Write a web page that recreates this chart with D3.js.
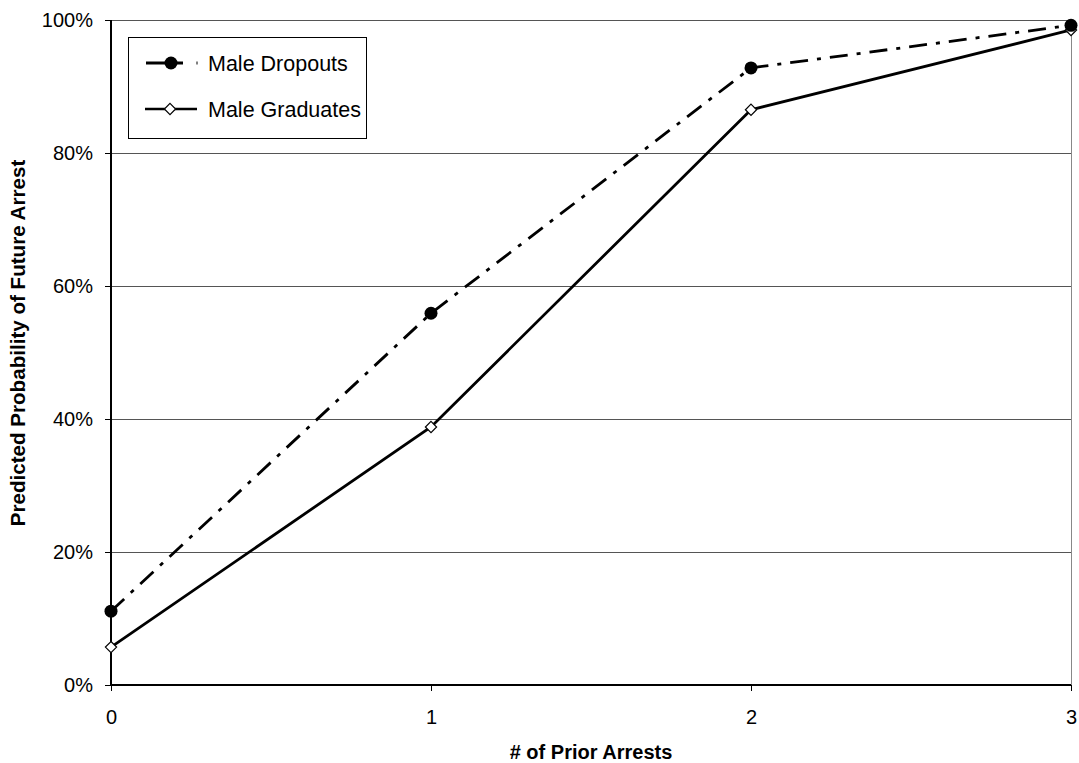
<!DOCTYPE html>
<html>
<head>
<meta charset="utf-8">
<script src="https://cdn.jsdelivr.net/npm/d3@7"></script>
<style>
  html, body { margin: 0; padding: 0; background: #fff; }
  svg { display: block; font-family: "Liberation Sans", Arial, sans-serif; }
</style>
</head>
<body>
<svg id="chart" width="1079" height="763"></svg>
<script>
// Predicted probability of future arrest by number of prior arrests
const priorArrests = [0, 1, 2, 3];
const dropouts = [0.111, 0.559, 0.928, 0.992];
const graduates = [0.057, 0.388, 0.865, 0.985];
const yTicks = [0, 0.2, 0.4, 0.6, 0.8, 1.0];
const seriesNames = ["Male Dropouts", "Male Graduates"];

const svg = d3.select("#chart");
const margin = { left: 111, right: 8, top: 20, bottom: 78 };
const W = 1079, H = 763;

const x = d3.scaleLinear().domain([0, 3]).range([margin.left, W - margin.right]);
const y = d3.scaleLinear().domain([0, 1]).range([H - margin.bottom, margin.top]);

// horizontal gridlines
svg.append("g").selectAll("line").data(yTicks.slice(1)).join("line")
  .attr("x1", x(0)).attr("x2", x(3))
  .attr("y1", d => y(d)).attr("y2", d => y(d))
  .attr("stroke", "#555").attr("stroke-width", 1)
  .attr("shape-rendering", "crispEdges");

// right border of the plot area
svg.append("line")
  .attr("x1", x(3)).attr("x2", x(3)).attr("y1", y(1)).attr("y2", y(0))
  .attr("stroke", "#888").attr("stroke-width", 1)
  .attr("shape-rendering", "crispEdges");

// axes
const yAxis = d3.axisLeft(y).tickValues(yTicks).tickFormat(d3.format(".0%"))
  .tickSize(6).tickPadding(12);
const gy = svg.append("g").attr("transform", `translate(${x(0)},0)`).call(yAxis);
const xAxis = d3.axisBottom(x).tickValues(priorArrests).tickFormat(d3.format("d"))
  .tickSize(6).tickPadding(19);
const gx = svg.append("g").attr("transform", `translate(0,${y(0)})`).call(xAxis);

[gy, gx].forEach(g => {
  g.select(".domain").attr("stroke", "#000").attr("stroke-width", 1.2).attr("shape-rendering", "crispEdges");
  g.selectAll(".tick line").attr("stroke", "#000").attr("shape-rendering", "crispEdges");
  g.selectAll(".tick text").attr("font-size", 20).attr("fill", "#000")
    .attr("font-family", "Liberation Sans, Arial, sans-serif");
});
gy.select(".domain").attr("d", `M0,${y(1)}V${y(0)}`);
gx.select(".domain").attr("d", `M${x(0)},0H${x(3)}`);

// axis titles
svg.append("text")
  .attr("x", (x(0) + x(3)) / 2).attr("y", 759)
  .attr("text-anchor", "middle").attr("font-size", 20).attr("font-weight", "bold")
  .text("# of Prior Arrests");
svg.append("text")
  .attr("transform", "translate(25,343) rotate(-90)")
  .attr("text-anchor", "middle").attr("font-size", 20.6).attr("font-weight", "bold")
  .text("Predicted Probability of Future Arrest");

const line = d3.line().x((d, i) => x(priorArrests[i])).y(d => y(d));
const dashPattern = "18,9,4,9";

// graduates (solid)
svg.append("path").datum(graduates)
  .attr("d", line).attr("fill", "none").attr("stroke", "#000")
  .attr("stroke-width", 2.8).attr("stroke-linejoin", "miter");

// dropouts (dash-dot)
svg.append("path").datum(dropouts)
  .attr("d", line).attr("fill", "none").attr("stroke", "#000")
  .attr("stroke-width", 2.8).attr("stroke-dasharray", dashPattern);

const diamond = d3.symbol().type(d3.symbolDiamond2).size(80);
svg.append("g").selectAll("path").data(graduates).join("path")
  .attr("d", diamond)
  .attr("transform", (d, i) => `translate(${x(priorArrests[i])},${y(d)})`)
  .attr("fill", "#fff").attr("stroke", "#000").attr("stroke-width", 1.2);

svg.append("g").selectAll("circle").data(dropouts).join("circle")
  .attr("cx", (d, i) => x(priorArrests[i])).attr("cy", d => y(d))
  .attr("r", 6.5).attr("fill", "#000");

// legend
const lg = svg.append("g").attr("transform", "translate(128,37)");
lg.append("rect").attr("width", 238).attr("height", 101)
  .attr("fill", "#fff").attr("stroke", "#000").attr("stroke-width", 1)
  .attr("shape-rendering", "crispEdges");
const rows = [
  { name: seriesNames[0], y: 26, dashed: true },
  { name: seriesNames[1], y: 72, dashed: false }
];
rows.forEach(r => {
  if (r.dashed) {
    lg.append("line").attr("x1", 18).attr("x2", 55).attr("y1", r.y).attr("y2", r.y)
      .attr("stroke", "#000").attr("stroke-width", 3);
    lg.append("line").attr("x1", 69).attr("x2", 69).attr("y1", r.y - 1.5).attr("y2", r.y + 1.5)
      .attr("stroke", "#000").attr("stroke-width", 1);
    lg.append("circle").attr("cx", 43).attr("cy", r.y).attr("r", 6.5).attr("fill", "#000");
  } else {
    lg.append("line").attr("x1", 17).attr("x2", 69).attr("y1", r.y).attr("y2", r.y)
      .attr("stroke", "#000").attr("stroke-width", 2.6);
    lg.append("path").attr("d", diamond)
      .attr("transform", `translate(42,${r.y})`)
      .attr("fill", "#fff").attr("stroke", "#000").attr("stroke-width", 1.2);
  }
  lg.append("text").attr("x", 80).attr("y", r.y + 7.5)
    .attr("font-size", 21.5).text(r.name);
});
</script>
</body>
</html>
